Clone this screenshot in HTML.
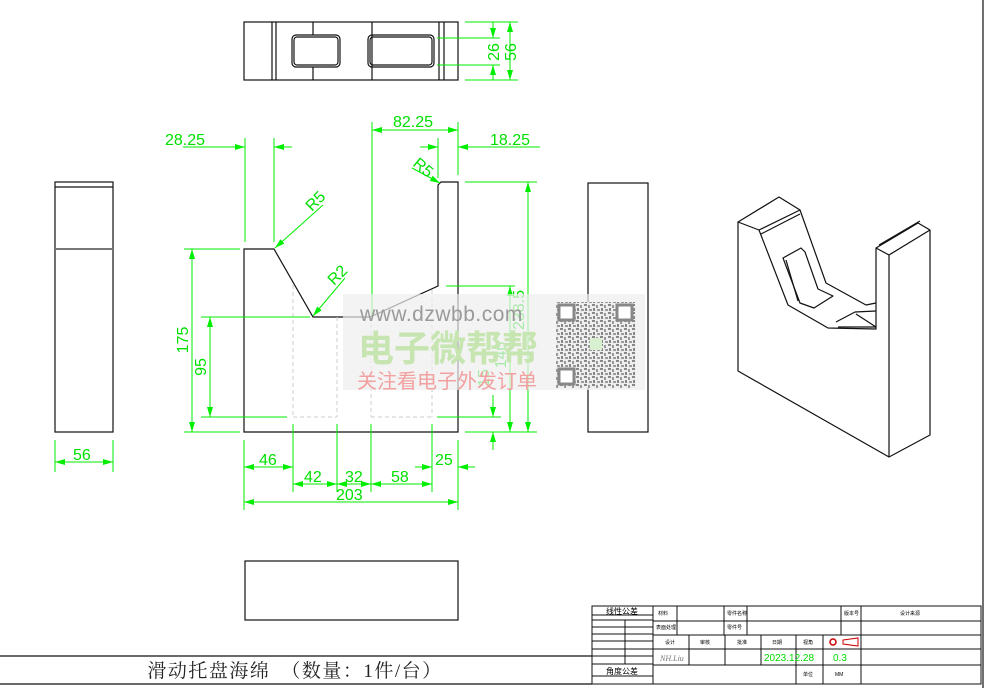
<!DOCTYPE html>
<html><head><meta charset="utf-8"><style>
html,body{margin:0;padding:0;background:#fff;}
svg{display:block;}
.k{stroke:#111;stroke-width:1.2;fill:none;}
.g{stroke:#00ee00;stroke-width:1;fill:none;}
.d{stroke:#ccc;stroke-width:1;fill:none;stroke-dasharray:4 3;}
.t{fill:#00e000;font-family:"Liberation Sans",sans-serif;font-size:16px;}
.s{font-family:"Liberation Sans","Noto Sans CJK SC",sans-serif;font-size:5px;fill:#000;}
</style></head><body>
<svg width="988" height="688" viewBox="0 0 988 688" xmlns="http://www.w3.org/2000/svg">
<defs>
<marker id="a" viewBox="0 0 10 6" refX="10" refY="3" markerWidth="10" markerHeight="6" markerUnits="userSpaceOnUse" orient="auto-start-reverse"><path d="M0,0L10,3L0,6z" fill="#00ee00"/></marker>
<pattern id="qr" width="8" height="8" patternUnits="userSpaceOnUse">
<rect width="8" height="8" fill="#eee"/>
<rect x="0" y="0" width="3" height="2" fill="#888"/><rect x="4" y="1" width="2" height="3" fill="#999"/><rect x="1" y="4" width="2" height="3" fill="#888"/><rect x="5" y="5" width="3" height="2" fill="#999"/>
</pattern>
</defs>
<!-- border -->
<line x1="983" y1="0" x2="983" y2="688" class="k"/>
<line x1="0" y1="656" x2="592" y2="656" class="k"/>
<line x1="0" y1="684" x2="592" y2="684" class="k"/>
<text x="295" y="677" text-anchor="middle" font-family="'Liberation Serif','Noto Serif CJK SC',serif" font-size="19" letter-spacing="1.5" fill="#222">滑动托盘海绵　（数量：1件/台）</text>

<!-- top view -->
<rect x="244" y="22" width="214" height="58" class="k"/>
<g class="k"><line x1="272" y1="22" x2="272" y2="80"/><line x1="276" y1="22" x2="276" y2="80"/><line x1="313" y1="22" x2="313" y2="35"/><line x1="313" y1="67" x2="313" y2="80"/><line x1="372" y1="22" x2="372" y2="80"/><line x1="439" y1="22" x2="439" y2="80"/><line x1="444" y1="22" x2="444" y2="80"/>
<rect x="292" y="35" width="48" height="32" rx="4"/><rect x="294" y="37" width="44" height="28" rx="3"/>
<rect x="368" y="35" width="66" height="32" rx="4"/><rect x="370" y="37" width="62" height="28" rx="3"/></g>
<g class="g"><line x1="465" y1="22" x2="518" y2="22"/><line x1="465" y1="80" x2="518" y2="80"/><line x1="437" y1="38" x2="500" y2="38"/><line x1="437" y1="65" x2="500" y2="65"/>
<line x1="493" y1="22" x2="493" y2="38" marker-end="url(#a)"/><line x1="493" y1="80" x2="493" y2="65" marker-end="url(#a)"/>
<line x1="510" y1="22" x2="510" y2="80" marker-start="url(#a)" marker-end="url(#a)"/></g>
<text class="t" transform="translate(499,52) rotate(-90)" text-anchor="middle">26</text>
<text class="t" transform="translate(516,52) rotate(-90)" text-anchor="middle">56</text>

<!-- front view -->
<path class="k" d="M244,249 L274,249 L313,317 L370,317 L438,286 L438,185 L441,182 L458,182 L458,432 L244,432 Z"/>
<g class="d"><line x1="293" y1="285" x2="293" y2="417"/><line x1="337" y1="317" x2="337" y2="417"/><line x1="371" y1="317" x2="371" y2="417"/><line x1="432" y1="290" x2="432" y2="417"/><line x1="293" y1="417" x2="337" y2="417"/><line x1="371" y1="417" x2="432" y2="417"/></g>
<g class="g">
<line x1="245" y1="138" x2="245" y2="242"/><line x1="274" y1="138" x2="274" y2="242"/>
<line x1="183" y1="147" x2="245" y2="147" marker-end="url(#a)"/><line x1="292" y1="147" x2="274" y2="147" marker-end="url(#a)"/>
<line x1="372" y1="122" x2="372" y2="317"/><line x1="458" y1="122" x2="458" y2="175"/>
<line x1="372" y1="130" x2="458" y2="130" marker-start="url(#a)" marker-end="url(#a)"/>
<line x1="438" y1="138" x2="438" y2="178"/>
<line x1="420" y1="147" x2="438" y2="147" marker-end="url(#a)"/><line x1="540" y1="147" x2="458" y2="147" marker-end="url(#a)"/>
<line x1="323" y1="205" x2="275" y2="248" marker-end="url(#a)"/>
<line x1="412" y1="168" x2="440" y2="183" marker-end="url(#a)"/>
<line x1="345" y1="278" x2="313" y2="316" marker-end="url(#a)"/>
<line x1="184" y1="249" x2="240" y2="249"/><line x1="184" y1="432" x2="240" y2="432"/>
<line x1="192" y1="249" x2="192" y2="432" marker-start="url(#a)" marker-end="url(#a)"/>
<line x1="201" y1="317" x2="310" y2="317"/><line x1="201" y1="417" x2="287" y2="417"/>
<line x1="210" y1="317" x2="210" y2="417" marker-start="url(#a)" marker-end="url(#a)"/>
<line x1="465" y1="182" x2="537" y2="182"/><line x1="465" y1="432" x2="537" y2="432"/>
<line x1="528" y1="182" x2="528" y2="432" marker-start="url(#a)" marker-end="url(#a)"/>
<line x1="446" y1="286" x2="515" y2="286"/>
<line x1="510" y1="286" x2="510" y2="432" marker-start="url(#a)" marker-end="url(#a)"/>
<line x1="437" y1="417" x2="501" y2="417"/>
<line x1="493" y1="395" x2="493" y2="417" marker-end="url(#a)"/><line x1="493" y1="450" x2="493" y2="432" marker-end="url(#a)"/>
<line x1="244" y1="440" x2="244" y2="510"/><line x1="293" y1="424" x2="293" y2="492"/><line x1="337" y1="424" x2="337" y2="492"/><line x1="371" y1="424" x2="371" y2="492"/><line x1="432" y1="424" x2="432" y2="492"/><line x1="458" y1="440" x2="458" y2="510"/>
<line x1="244" y1="467" x2="293" y2="467" marker-start="url(#a)" marker-end="url(#a)"/>
<line x1="415" y1="467" x2="432" y2="467" marker-end="url(#a)"/><line x1="475" y1="467" x2="458" y2="467" marker-end="url(#a)"/>
<line x1="293" y1="484" x2="337" y2="484" marker-start="url(#a)" marker-end="url(#a)"/>
<line x1="337" y1="484" x2="371" y2="484" marker-start="url(#a)" marker-end="url(#a)"/>
<line x1="371" y1="484" x2="432" y2="484" marker-start="url(#a)" marker-end="url(#a)"/>
<line x1="244" y1="502" x2="458" y2="502" marker-start="url(#a)" marker-end="url(#a)"/>
</g>
<text class="t" x="165" y="145">28.25</text>
<text class="t" x="393" y="127">82.25</text>
<text class="t" x="490" y="145">18.25</text>
<text class="t" transform="translate(312,212) rotate(-45)">R5</text>
<text class="t" transform="translate(412,165) rotate(40)">R5</text>
<text class="t" transform="translate(334,286) rotate(-45)">R2</text>
<text class="t" transform="translate(188,340) rotate(-90)" text-anchor="middle">175</text>
<text class="t" transform="translate(206,367) rotate(-90)" text-anchor="middle">95</text>
<text class="t" transform="translate(524,310) rotate(-90)" text-anchor="middle">238.5</text>
<text class="t" transform="translate(506,355) rotate(-90)" text-anchor="middle">140</text>
<text class="t" transform="translate(489,378) rotate(-90)" text-anchor="middle">15</text>
<text class="t" x="259" y="465">46</text>
<text class="t" x="435" y="465">25</text>
<text class="t" x="304" y="482">42</text>
<text class="t" x="345" y="482">32</text>
<text class="t" x="391" y="482">58</text>
<text class="t" x="336" y="500">203</text>

<!-- left view -->
<rect x="55" y="182" width="58" height="250" class="k"/>
<line x1="55" y1="187" x2="113" y2="187" class="k"/>
<line x1="55" y1="249" x2="113" y2="249" stroke="#777" stroke-width="2"/>
<g class="g"><line x1="55" y1="440" x2="55" y2="472"/><line x1="113" y1="440" x2="113" y2="472"/><line x1="55" y1="462" x2="113" y2="462" marker-start="url(#a)" marker-end="url(#a)"/></g>
<text class="t" x="73" y="460">56</text>
<rect x="588" y="183" width="60" height="249" class="k"/>
<rect x="245" y="561" width="213" height="59" class="k"/>

<!-- iso -->
<g class="k" stroke-linejoin="round">
<path d="M738,222 L779,197 L800,210 L759,230 Z"/>
<path d="M738,222 L738,371 L889,457 L930,435 L930,230 L918,223 L876,248 L876,329 L828,328 L788,305 L759,230"/>
<path d="M800,210 L826,283 L866,305 L876,303"/>
<line x1="800" y1="214" x2="761" y2="234"/>
<path d="M889,457 L889,255 L876,248 M889,255 L930,230 M879,245 L920,221"/>
<path d="M783,258 L801,248 L805,252 L818,289 L833,296 L814,308 L800,303 Z"/>
<path d="M786,260 L798,301"/>
<path d="M836,322 L855,312 L876,311 M838,327 L876,327 L856,314"/>
</g>

<!-- watermark -->
<rect x="343" y="294" width="302" height="96" fill="#eeeeee" opacity="0.7"/>
<text x="360" y="321" font-family="'Liberation Sans',sans-serif" font-size="21" letter-spacing="0.5" fill="#9a9a9a">www.dzwbb.com</text>
<text x="358" y="361" font-family="'Liberation Sans','Noto Sans CJK SC',sans-serif" font-size="36" font-weight="bold" fill="#c6e5b0">电子微帮帮</text>
<text x="357" y="388" font-family="'Liberation Sans','Noto Sans CJK SC',sans-serif" font-size="20" fill="#f2a0a0">关注看电子外发订单</text>
<rect x="556" y="302" width="80" height="86" fill="url(#qr)"/>
<rect x="559" y="305" width="15" height="15" fill="#fff" stroke="#888" stroke-width="3"/>
<rect x="617" y="305" width="15" height="15" fill="#fff" stroke="#888" stroke-width="3"/>
<rect x="559" y="369" width="15" height="15" fill="#fff" stroke="#888" stroke-width="3"/>
<rect x="590" y="338" width="12" height="12" fill="#d8f0d0"/>

<!-- title block -->
<g stroke="#111" stroke-width="1" fill="none">
<rect x="592" y="606" width="389" height="78"/>
<line x1="653" y1="606" x2="653" y2="684"/>
<line x1="653" y1="621" x2="981" y2="621"/><line x1="653" y1="635" x2="981" y2="635"/><line x1="653" y1="649" x2="981" y2="649"/><line x1="653" y1="665" x2="981" y2="665"/>
<line x1="677" y1="606" x2="677" y2="635"/><line x1="724" y1="606" x2="724" y2="635"/><line x1="747" y1="606" x2="747" y2="635"/><line x1="841" y1="606" x2="841" y2="635"/><line x1="861" y1="606" x2="861" y2="684"/>
<line x1="689" y1="635" x2="689" y2="665"/><line x1="725" y1="635" x2="725" y2="665"/><line x1="761" y1="635" x2="761" y2="665"/><line x1="796" y1="635" x2="796" y2="684"/><line x1="823" y1="635" x2="823" y2="684"/>
<line x1="592" y1="615" x2="653" y2="615"/><line x1="592" y1="620" x2="653" y2="620"/><line x1="592" y1="627" x2="653" y2="627"/><line x1="592" y1="634" x2="653" y2="634"/><line x1="592" y1="641" x2="653" y2="641"/><line x1="592" y1="649" x2="653" y2="649"/><line x1="592" y1="656" x2="653" y2="656"/><line x1="592" y1="664" x2="653" y2="664"/><line x1="592" y1="676" x2="653" y2="676"/>
<line x1="625" y1="620" x2="625" y2="664"/>
</g>
<text x="622" y="614" text-anchor="middle" font-family="'Liberation Sans','Noto Sans CJK SC',sans-serif" font-size="8" fill="#000">线性公差</text>
<text x="622" y="674" text-anchor="middle" font-family="'Liberation Sans','Noto Sans CJK SC',sans-serif" font-size="8" fill="#000">角度公差</text>
<text class="s" x="658" y="615">材料</text><text class="s" x="727" y="615">零件名称</text><text class="s" x="844" y="615">版本号</text><text class="s" x="900" y="615">设计来源</text>
<text class="s" x="656" y="629">表面处理</text><text class="s" x="727" y="629">零件号</text>
<text class="s" x="665" y="644">设计</text><text class="s" x="700" y="644">审核</text><text class="s" x="737" y="644">批准</text><text class="s" x="772" y="644">日期</text><text class="s" x="803" y="644">视角</text>
<text class="s" x="803" y="676">单位</text><text class="s" x="835" y="676">MM</text>
<text x="660" y="661" font-family="'Liberation Serif',serif" font-style="italic" font-size="8" fill="#777">NH.Liu</text>
<text x="764" y="661" font-family="'Liberation Sans',sans-serif" font-size="10" fill="#00dd00">2023.12.28</text>
<text x="833" y="661" font-family="'Liberation Sans',sans-serif" font-size="10" fill="#00dd00">0.3</text>
<circle cx="833" cy="642" r="3" fill="none" stroke="#c00" stroke-width="1.5"/>
<path d="M843,640 L858,638 L858,646 L843,644 Z" fill="none" stroke="#c00"/>
</svg>
</body></html>
